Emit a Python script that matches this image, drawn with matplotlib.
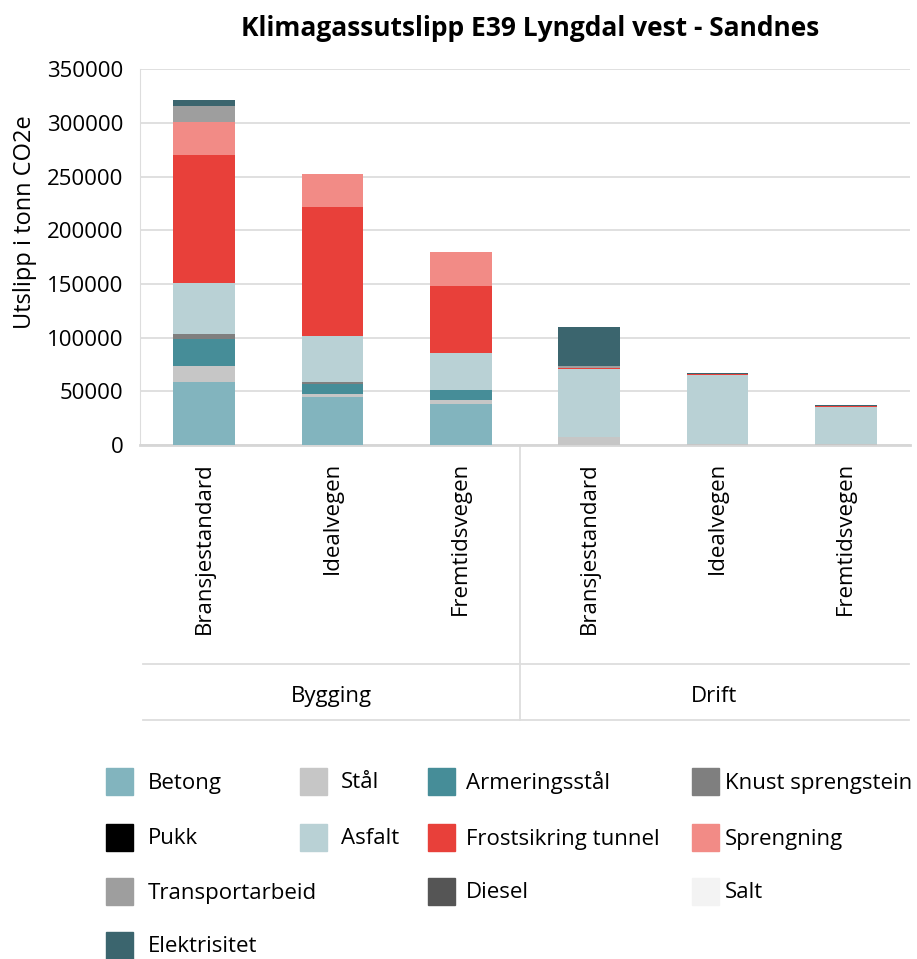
import matplotlib
matplotlib.use("Agg")
import matplotlib.pyplot as plt
import numpy as np
from matplotlib.patches import Rectangle

plt.rcParams["font.family"] = ["Open Sans", "DejaVu Sans"]

# categories: three variants per phase
variants = ["Bransjestandard", "Idealvegen", "Fremtidsvegen",
            "Bransjestandard", "Idealvegen", "Fremtidsvegen"]
phases = ["Bygging", "Drift"]

# emissions per component (tonn CO2e), one value per bar
betong = [59000, 44700, 38200, 400, 400, 300]
staal = [15000, 2800, 3700, 6800, 300, 300]
armering = [25000, 9600, 9300, 0, 0, 0]
knust = [4000, 1600, 0, 0, 0, 0]
pukk = [0, 0, 0, 0, 0, 0]
asfalt = [48000, 42900, 34500, 63800, 64500, 34600]
frost = [119000, 120200, 62400, 900, 900, 900]
sprengning = [31000, 30700, 31700, 0, 0, 0]
transport = [15000, 0, 0, 1500, 0, 0]
diesel = [0, 0, 0, 0, 0, 0]
salt = [0, 0, 0, 0, 0, 0]
elektrisitet = [5500, 0, 0, 36300, 900, 900]

series = [
    ("Betong", betong, "#82b4be"),
    ("Stål", staal, "#c6c6c6"),
    ("Armeringsstål", armering, "#468d98"),
    ("Knust sprengstein", knust, "#7f7f7f"),
    ("Pukk", pukk, "#000000"),
    ("Asfalt", asfalt, "#b9d1d5"),
    ("Frostsikring tunnel", frost, "#e8403a"),
    ("Sprengning", sprengning, "#f28b86"),
    ("Transportarbeid", transport, "#9e9e9e"),
    ("Diesel", diesel, "#555555"),
    ("Salt", salt, "#f3f3f3"),
    ("Elektrisitet", elektrisitet, "#3b656e"),
]

W, H = 917, 959
fig = plt.figure(figsize=(W / 100, H / 100), dpi=100)
ax = fig.add_axes([140 / W, 1 - 445 / H, 770 / W, 375.7 / H])

x = np.arange(len(variants))
bottom = np.zeros(len(variants))
for name, vals, color in series:
    vals = np.array(vals, dtype=float)
    ax.bar(x, vals, 0.48, bottom=bottom, color=color, label=name, zorder=3)
    bottom += vals

ax.set_xlim(-0.5, 5.5)
ax.set_ylim(0, 350000)
ax.set_yticks(np.arange(0, 350001, 50000))
ax.yaxis.grid(True, color="#dddddd", linewidth=1.3, zorder=0)
ax.tick_params(axis="y", length=0, labelsize=16, pad=12)
ax.set_xticks([])
for s in ["top", "right"]:
    ax.spines[s].set_visible(False)
ax.spines["left"].set_color("#dddddd")
ax.spines["bottom"].set_color("#d6d6d6")
ax.spines["bottom"].set_linewidth(2)

# category labels and phase group axis
tr = ax.get_xaxis_transform()
for xi, lab in zip(x, variants):
    ax.text(xi, -0.045, lab, rotation=90, ha="center", va="top", fontsize=16, transform=tr)
line_kw = dict(color="#dddddd", linewidth=1.3, transform=tr, clip_on=False)
ax.plot([-0.477, 5.49], [-0.583, -0.583], **line_kw)
ax.plot([-0.477, 5.49], [-0.732, -0.732], **line_kw)
ax.plot([2.46, 2.46], [0, -0.732], **line_kw)
ax.text((-0.477 + 2.46) / 2, -0.67, phases[0], ha="center", va="center", fontsize=16, transform=tr)
ax.text((2.46 + 5.49) / 2, -0.67, phases[1], ha="center", va="center", fontsize=16, transform=tr)

fig.text(530 / W, 1 - 28 / H, "Klimagassutslipp E39 Lyngdal vest - Sandnes",
         ha="center", va="center", fontsize=19, fontweight="bold")
fig.text(25 / W, 1 - 222 / H, "Utslipp i tonn CO2e", rotation=90,
         ha="center", va="center", fontsize=17)

# legend laid out like the original flow legend (patch x, row y, text x)
legend_pos = [(106, 781, 148), (300, 781, 341), (428, 781, 466), (692, 781, 725),
              (106, 837, 148), (300, 837, 341), (428, 837, 466), (692, 837, 725),
              (106, 891, 148), (428, 891, 466), (692, 891, 725),
              (106, 945, 148)]
for (name, _, color), (px, py, tx) in zip(series, legend_pos):
    fig.add_artist(Rectangle((px / W, 1 - (py + 13.5) / H), 27 / W, 27 / H,
                             color=color, transform=fig.transFigure))
    fig.text(tx / W, 1 - (py + 2) / H, name, ha="left", va="center", fontsize=16)

fig.savefig("out.png", dpi=100)
